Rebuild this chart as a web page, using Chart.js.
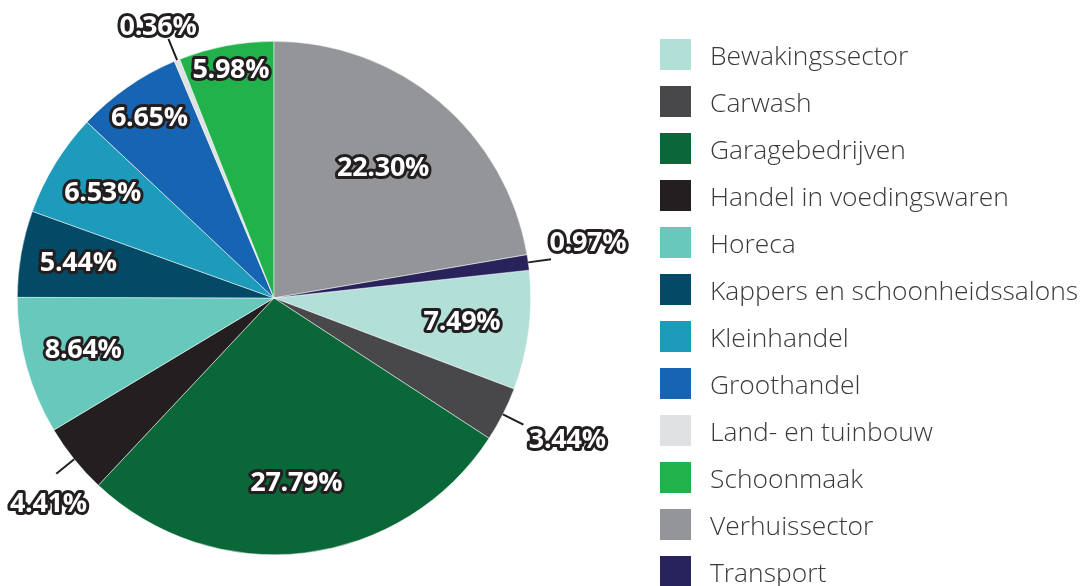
<!DOCTYPE html>
<html>
<head>
<meta charset="utf-8">
<script src="https://cdn.jsdelivr.net/npm/chart.js@4"></script>
<style>
  html, body { margin: 0; padding: 0; background: #fff; overflow: hidden; }
  #wrap { position: relative; width: 1083px; height: 586px; overflow: hidden; }
  #pie { position: absolute; left: 0; top: 0; }
  #legend { position: absolute; left: 660px; top: 39px; margin: 0; padding: 0; list-style: none; }
  #legend li { position: relative; height: 47px; }
  #legend .box { position: absolute; left: 0; top: 0; width: 31px; height: 31px; }
  #legend .txt { position: absolute; left: 50px; top: 15.5px; transform: translateY(-50%);
    font-family: "Open Sans", sans-serif; font-weight: 300; font-size: 26.4px; color: #3a3a3a; white-space: nowrap; }
</style>
</head>
<body>
<div id="wrap">
  <canvas id="pie" width="1083" height="586"></canvas>
  <ul id="legend"></ul>
</div>
<script>
// data (legend order)
const categories = [
    "Bewakingssector",
    "Carwash",
    "Garagebedrijven",
    "Handel in voedingswaren",
    "Horeca",
    "Kappers en schoonheidssalons",
    "Kleinhandel",
    "Groothandel",
    "Land- en tuinbouw",
    "Schoonmaak",
    "Verhuissector",
    "Transport"
];
const shares = [7.49, 3.44, 27.79, 4.41, 8.64, 5.44, 6.53, 6.65, 0.36, 5.98, 22.30, 0.97];
const colors = ["#b2e0d8", "#48484a", "#0a6738", "#231f20", "#67c8bc", "#034a66",
                "#1e9aba", "#1764b2", "#e0e1e3", "#22b24c", "#939598", "#29235c"];

// label placement: fraction of radius + small angle shift (deg); outside labels get a leader line
const labelRadius  = [0.738, 1.27, 0.727, 1.19, 0.771, 0.774, 0.783, 0.851, 1.148, 0.901, 0.659, 1.241];
const labelShift   = [0, -1, 0, -3.5, 0, 0, 0, 0, -1, 0, 0, -2];
const labelOutside = [false, true, false, true, false, false, false, false, true, false, false, true];

// Verhuissector + Transport sit before Bewakingssector, clockwise from the top
const total = shares.reduce((a, b) => a + b, 0);
const rotation = (shares[10] + shares[11]) / total * 360;

// legend (html)
const ul = document.getElementById("legend");
categories.forEach(function (c, i) {
    const li = document.createElement("li");
    li.innerHTML = '<span class="box" style="background:' + colors[i] + '"></span><span class="txt">' + c + '</span>';
    ul.appendChild(li);
});

// percentage labels with outline
const pctLabels = {
    id: "pctLabels",
    afterDatasetsDraw(chart) {
        const ctx = chart.ctx;
        const meta = chart.getDatasetMeta(0);
        ctx.save();
        ctx.font = "bold 27px 'Open Sans'";
        ctx.letterSpacing = "-0.3px";
        ctx.textAlign = "center";
        ctx.textBaseline = "middle";
        ctx.lineJoin = "round";
        meta.data.forEach(function (arc, i) {
            const p = arc.getProps(["x", "y", "startAngle", "endAngle", "outerRadius"], true);
            const mid = (p.startAngle + p.endAngle) / 2;
            const r = p.outerRadius;
            if (labelOutside[i]) {
                ctx.beginPath();
                ctx.strokeStyle = "#231f20";
                ctx.lineWidth = 2;
                ctx.moveTo(p.x + Math.cos(mid) * r, p.y + Math.sin(mid) * r);
                ctx.lineTo(p.x + Math.cos(mid) * (r + 23), p.y + Math.sin(mid) * (r + 23));
                ctx.stroke();
            }
            const a = mid + labelShift[i] * Math.PI / 180;
            const lx = p.x + Math.cos(a) * r * labelRadius[i];
            const ly = p.y + Math.sin(a) * r * labelRadius[i];
            const txt = shares[i].toFixed(2) + "%";
            ctx.strokeStyle = "#231f20";
            ctx.lineWidth = 6;
            ctx.strokeText(txt, lx, ly);
            ctx.fillStyle = "#ffffff";
            ctx.fillText(txt, lx, ly);
        });
        ctx.restore();
    }
};

const ctx = document.getElementById("pie").getContext("2d");
const myChart = new Chart(ctx, {
    type: "pie",
    data: {
        labels: categories,
        datasets: [{
            data: shares,
            backgroundColor: colors,
            borderColor: "#ffffff",
            borderWidth: 0.5
        }]
    },
    options: {
        responsive: false,
        animation: false,
        rotation: rotation,
        layout: { padding: { left: 17, top: 41, right: 552, bottom: 31 } },
        plugins: {
            legend: { display: false },
            tooltip: { enabled: false }
        }
    },
    plugins: [pctLabels]
});
</script>
</body>
</html>
